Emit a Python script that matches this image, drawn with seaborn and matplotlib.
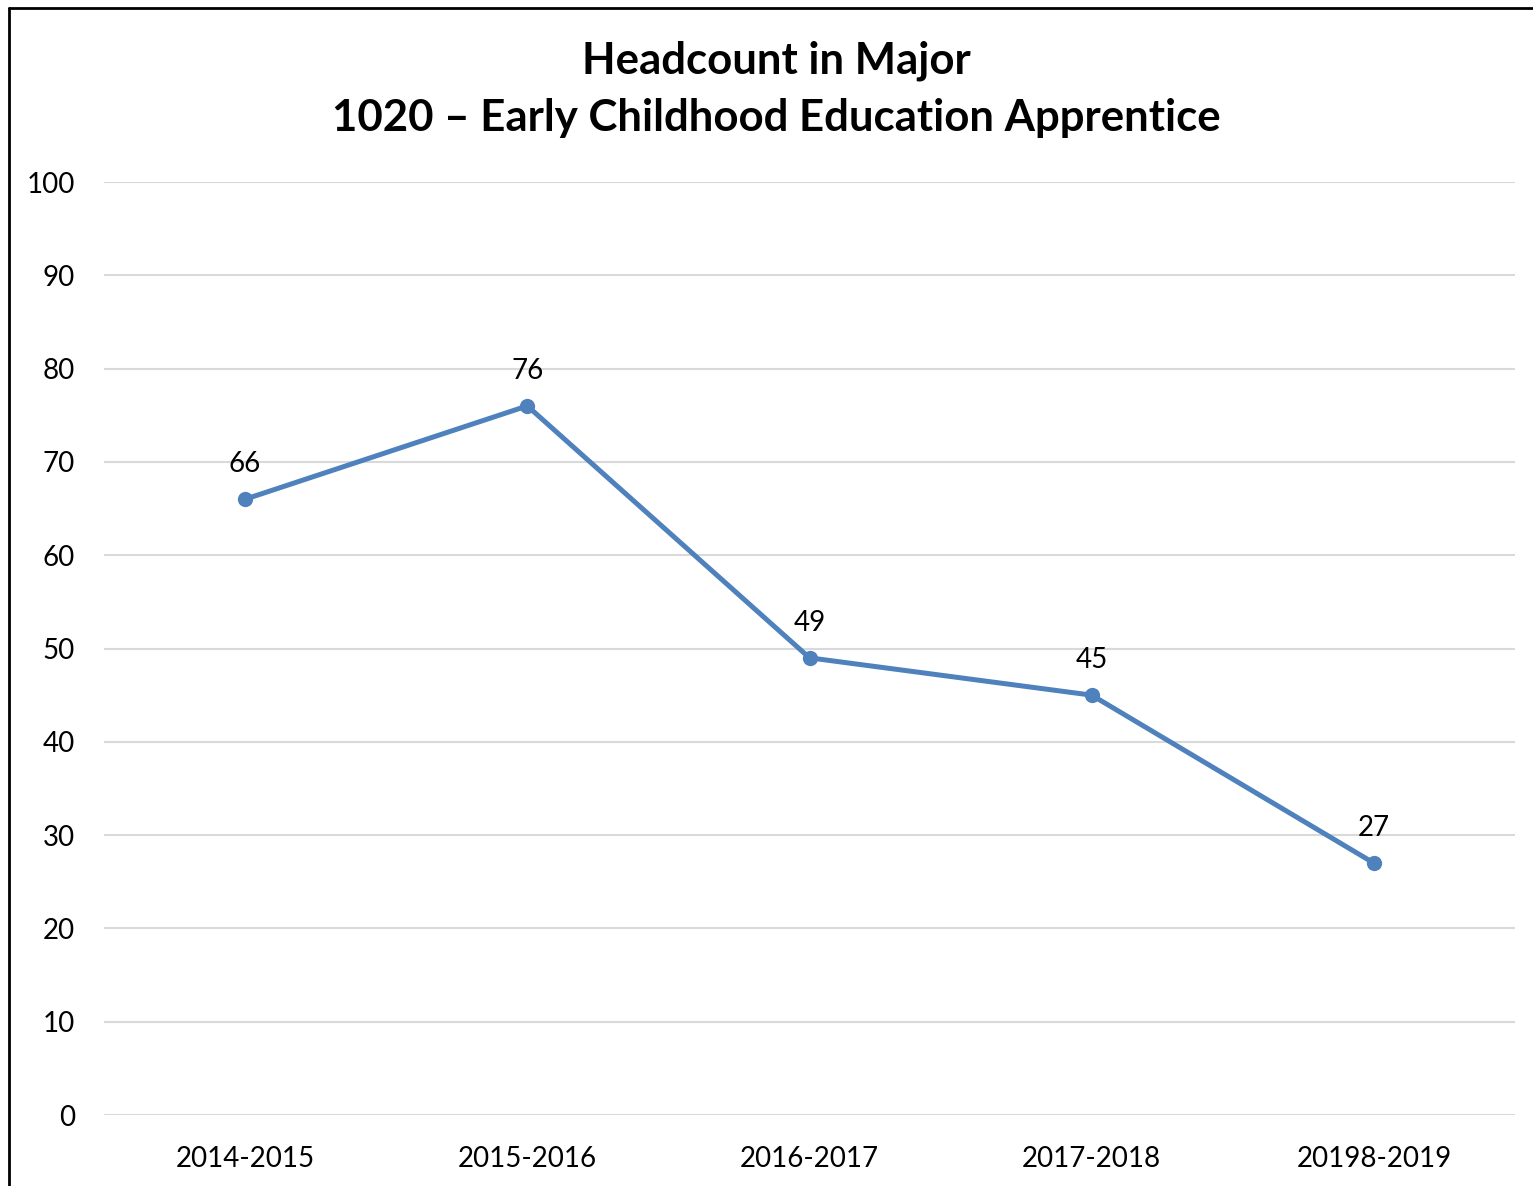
import matplotlib
matplotlib.use("Agg")
import matplotlib.pyplot as plt
import seaborn as sns
import pandas as pd
from matplotlib.lines import Line2D

years = ["2014-2015", "2015-2016", "2016-2017", "2017-2018", "20198-2019"]
headcount = [66, 76, 49, 45, 27]
yticks = [0, 10, 20, 30, 40, 50, 60, 70, 80, 90, 100]
title = "Headcount in Major\n1020 \u2013 Early Childhood Education Apprentice"

df = pd.DataFrame({"year": years, "headcount": headcount})

sns.set_style("white")
plt.rcParams["font.family"] = ["Lato", "DejaVu Sans"]
plt.rcParams["text.color"] = "black"

fig = plt.figure(figsize=(15.33, 11.86), dpi=100)
ax = fig.add_axes([104 / 1533, 71 / 1186, 1411 / 1533, 933 / 1186])

color = "#4F81BD"
sns.lineplot(data=df, x="year", y="headcount", ax=ax, color=color, linewidth=3.6,
             marker="o", markersize=11, markeredgewidth=0, sort=False)

for i, v in enumerate(headcount):
    ax.annotate(str(v), (i, v), xytext=(0, 16), textcoords="offset points",
                ha="center", va="bottom", fontsize=20, color="black")

ax.set_xlim(-0.5, len(years) - 0.5)
ax.set_ylim(0, 100)
ax.set_yticks(yticks)
ax.set_yticklabels([str(t) for t in yticks])
ax.set_xlabel("")
ax.set_ylabel("")
ax.grid(axis="y", color="#D9D9D9", linewidth=1.5)
ax.set_axisbelow(True)
for s in ax.spines.values():
    s.set_visible(False)
ax.tick_params(axis="both", length=0, labelsize=20, colors="black", labelcolor="black")
ax.tick_params(axis="y", pad=21)
ax.tick_params(axis="x", pad=22)

fig.text(776 / 1533, 1 - 89 / 1186, title, ha="center", va="center",
         fontsize=31.5, fontweight="bold", linespacing=1.5, color="black")

# chart border (left and top visible)
fig.add_artist(Line2D([9 / 1533, 9 / 1533], [0, 1 - 8 / 1186], transform=fig.transFigure,
                      color="black", linewidth=2))
fig.add_artist(Line2D([9 / 1533, 1], [1 - 8 / 1186, 1 - 8 / 1186], transform=fig.transFigure,
                      color="black", linewidth=2))

fig.savefig("out.png", dpi=100, facecolor="white")
